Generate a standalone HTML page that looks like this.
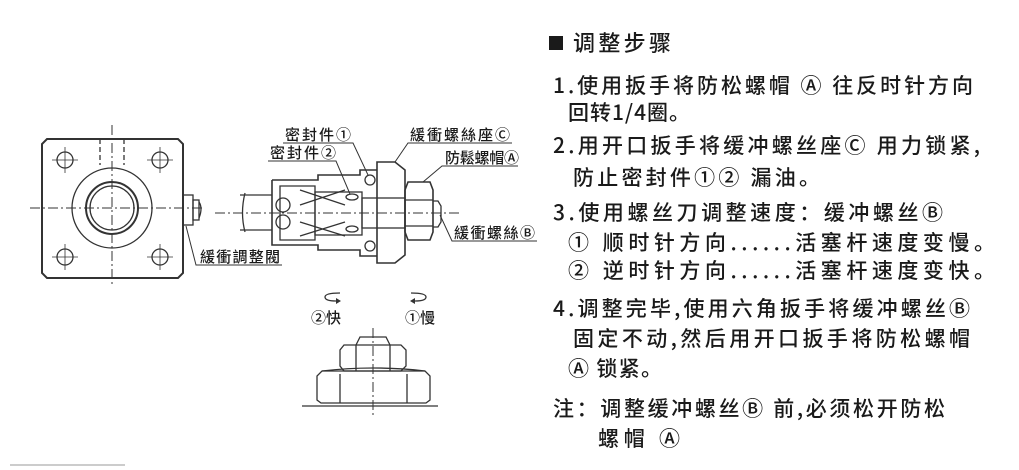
<!DOCTYPE html>
<html><head><meta charset="utf-8"><style>
html,body{margin:0;padding:0;background:#fff;width:1019px;height:470px;overflow:hidden}
svg{display:block}
.t{font-family:"Noto Sans CJK SC","Liberation Sans",sans-serif;fill:#1a1a1a;font-weight:500}
.l{font-family:"Noto Sans CJK TC","Liberation Sans",sans-serif;fill:#1a1a1a;font-size:15px;font-weight:500}
</style></head><body>
<svg width="1019" height="470" viewBox="0 0 1019 470" xmlns="http://www.w3.org/2000/svg">
<g fill="none" stroke="#333" stroke-width="1.3">
<path d="M47 139 H178 L183 144 V273 L178 278 H47 L42 273 V144 Z" stroke-width="2"/>
<line x1="30" y1="208" x2="205" y2="208" stroke-dasharray="10,3,2,3" stroke-width="1"/>
<line x1="112" y1="125" x2="112" y2="285" stroke-dasharray="10,3,2,3" stroke-width="1"/>
<line x1="100" y1="139" x2="100" y2="165" stroke-dasharray="5,3"/>
<line x1="124" y1="139" x2="124" y2="165" stroke-dasharray="5,3"/>
<circle cx="65" cy="160" r="8"/><circle cx="160" cy="160" r="8"/>
<circle cx="65" cy="257" r="8"/><circle cx="160" cy="257" r="8"/>
<g stroke-width="0.8">
<path d="M52 160h26M65 147v26M147 160h26M160 147v26M52 257h26M65 244v26M147 257h26M160 244v26"/>
</g>
<circle cx="112" cy="208" r="40"/>
<circle cx="112" cy="208" r="26" stroke-width="2"/>
<circle cx="112" cy="208" r="22"/>
<rect x="183" y="195" width="10" height="30"/>
<rect x="193" y="200" width="6" height="20"/>
<path d="M199 202 q4 6 0 16"/>
<polyline points="186,226 196,265 282,265" stroke-width="1"/>
<line x1="215" y1="213" x2="460" y2="213" stroke-dasharray="10,3,2,3" stroke-width="1"/>
<path d="M240 195 H272 M240 230 H272 M245 193 q-5 20 0 39"/>
<path d="M272 180 H318 V175 H360 V170 H377 M272 180 V245 H318 V250 H360 V256 H377" stroke-width="1.6"/>
<path d="M280 186 H315 V240 H280 Z"/>
<path d="M300 190 L345 205 M300 205 L345 190 M300 222 L345 236 M300 236 L345 222"/>
<circle cx="283" cy="205" r="7"/><circle cx="283" cy="222" r="7"/>
<rect x="315" y="192" width="47" height="43"/>
<circle cx="370" cy="180" r="5"/><circle cx="370" cy="246" r="5"/>
<ellipse cx="352" cy="197" rx="6" ry="3"/><ellipse cx="352" cy="229" rx="6" ry="3"/>
<path d="M377 162 H395 L405 170 V255 L395 263 H377 Z" stroke-width="1.6"/>
<rect x="362" y="198" width="43" height="30"/>
<path d="M408 182 H430 L433 190 V232 L430 240 H408 L405 232 V190 Z" stroke-width="1.6"/>
<path d="M405 200 H433 M405 226 H433"/>
<path d="M433 201 H438 L441 206 V222 L438 227 H433"/>
<polyline points="283,143 353,143 368,175" stroke-width="1"/>
<polyline points="268,161 336,161 350,194" stroke-width="1"/>
<polyline points="395,162 408,143 512,143" stroke-width="1"/>
<polyline points="423,182 442,166 518,166" stroke-width="1"/>
<polyline points="440,215 452,241 537,241" stroke-width="1"/>
<path d="M340 293 Q325 293 325 297 Q325 301 336 301" stroke-width="1.3"/>
<path d="M336 298 L341 301 L336 304 Z" fill="#333" stroke="none"/>
<path d="M411 293 Q426 293 426 297 Q426 301 415 301" stroke-width="1.3"/>
<path d="M415 298 L410 301 L415 304 Z" fill="#333" stroke="none"/>
<line x1="373" y1="328" x2="373" y2="415" stroke-dasharray="10,3,2,3" stroke-width="1"/>
<path d="M356 345 L360 337 H386 L390 345"/>
<path d="M344 345 H401 L406 350 V366 L401 371 H344 L340 366 V350 Z"/>
<path d="M356 345 V371 M390 345 V371"/>
<path d="M322 371 H425 L430 376 V400 L426 403 H321 L317 400 V376 Z"/>
<path d="M340 374 V403 M407 374 V403 M322 371 Q373 365 425 371"/>
<line x1="302" y1="406" x2="438" y2="406" stroke-width="1.2"/>
</g>
<line x1="10" y1="465" x2="125" y2="465" stroke="#999" stroke-width="1"/>
<text class="l" x="285" y="140" textLength="66">密封件①</text>
<text class="l" x="270" y="158" textLength="66">密封件②</text>
<text class="l" x="410" y="140" textLength="100">緩衝螺絲座Ⓒ</text>
<text class="l" x="445" y="163" textLength="74">防鬆螺帽Ⓐ</text>
<text class="l" x="454" y="238" textLength="81">緩衝螺絲Ⓑ</text>
<text class="l" x="200" y="262" textLength="80">緩衝調整閥</text>
<text class="l" x="311" y="323" font-size="17">②快</text>
<text class="l" x="405" y="323" font-size="17">①慢</text>
<g class="t" font-size="21">
<rect x="549" y="36" width="14" height="14" fill="#1a1a1a"/>
<text x="573" y="51" font-size="22" textLength="98">调整步骤</text>
<text x="553" y="93" textLength="420">1.使用扳手将防松螺帽 Ⓐ 往反时针方向</text>
<text x="568" y="120" textLength="122">回转1/4圈。</text>
<text x="553" y="153" textLength="427">2.用开口扳手将缓冲螺丝座Ⓒ 用力锁紧,</text>
<text x="573" y="185" textLength="247">防止密封件①② 漏油。</text>
<text x="553" y="220" textLength="390">3.使用螺丝刀调整速度：缓冲螺丝Ⓑ</text>
<text x="568" y="250" textLength="427">① 顺时针方向......活塞杆速度变慢。</text>
<text x="568" y="278" textLength="427">② 逆时针方向......活塞杆速度变快。</text>
<text x="553" y="316" textLength="417">4.调整完毕,使用六角扳手将缓冲螺丝Ⓑ</text>
<text x="573" y="346" textLength="397">固定不动,然后用开口扳手将防松螺帽</text>
<text x="568" y="376" textLength="94">Ⓐ 锁紧。</text>
<text x="553" y="416" textLength="392">注：调整缓冲螺丝Ⓑ 前,必须松开防松</text>
<text x="598" y="446" textLength="82">螺帽 Ⓐ</text>
</g>
</svg>
</body></html>
